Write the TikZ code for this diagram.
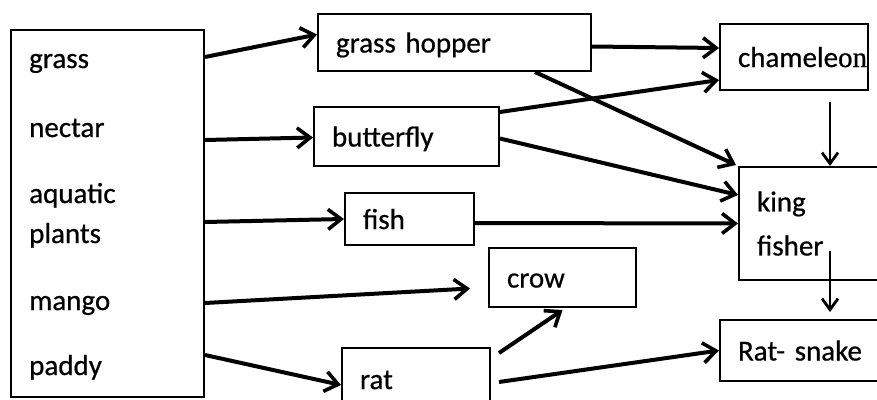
\documentclass[tikz,border=0pt]{standalone}
\usepackage{fontspec}
\setmainfont{Carlito}[FakeBold=0.6]
\newfontfamily\oddfont{Liberation Serif}[FakeBold=0.6]
\usetikzlibrary{arrows.meta}

\begin{document}
\begin{tikzpicture}[
    x=1pt, y=-1pt,
    font=\fontsize{29}{35}\selectfont,
    box/.style={draw, line width=2pt, rectangle, anchor=north west, align=left,
        inner xsep=18pt, inner ysep=0pt, text height=20pt, text depth=0pt},
    food item/.style={anchor=base west, inner sep=0pt},
    feed/.style={line width=4pt,
        -{Straight Barb[length=13pt, width=20pt, line width=3.6pt]}},
    eat/.style={line width=2pt, -{Straight Barb[length=11pt, width=16pt, line width=2.8pt]}},
]
\useasboundingbox (0,0) rectangle (877,399);
\clip (0,0) rectangle (877,399);
% producers
\node[box, minimum width=193pt, minimum height=367pt] (food) at (10,29) {};
\foreach \word/\base in {grass/68, nectar/137, aquatic/203, plants/243, mango/310, paddy/375}
    \node[food item] (\word) at (29,\base) {\word};
% consumers
\node[box, text width=237pt, minimum height=57pt] (hopper) at (317,13) {grass hopper};
\node[box, text width=149pt, minimum height=59pt] (butterfly) at (313,106) {butterfly};
\node[box, text width=93pt, minimum height=52pt] (fish) at (344,192) {fish};
\node[box, text width=111pt, minimum height=59pt] (crow) at (488,247) {crow};
\node[box, text width=112pt, minimum height=62pt] (rat) at (341,347) {rat};
\node[box, text width=112pt, minimum height=66pt] (cham) at (719,23) {chamele{\oddfont on}};
\node[box, text width=146pt, minimum height=113pt, text height=, text depth=] (kf) at (738,166) {king\\[9pt]fisher};
\node[box, text width=184pt, minimum height=61pt] (snake) at (719,319) {Rat- snake};
% food chains
\draw[feed] ([yshift=-28pt]food.north east) -- ([yshift=8pt]hopper.west);
\draw[feed] ([yshift=-111pt]food.north east) -- ([yshift=-1pt]butterfly.west);
\draw[feed] ([yshift=-193pt]food.north east) -- (fish.west);
\draw[feed] ([yshift=-274pt]food.north east) -- ([shift={(-18pt,-11pt)}]crow.west);
\draw[feed] ([yshift=-326pt]food.north east) -- ([yshift=-6pt]rat.west);
\draw[feed] ([yshift=-4pt]hopper.east) -- ([yshift=9pt]cham.west);
\draw[feed] ([xshift=-57pt]hopper.south east) -- ([shift={(-2pt,1pt)}]kf.north west);
\draw[feed] ([yshift=-6pt]butterfly.north east) -- ([yshift=11pt]cham.south west);
\draw[feed] ([yshift=-2pt]butterfly.east) -- ([yshift=-29pt]kf.north west);
\draw[feed] ([yshift=-4pt]fish.east) -- (kf.west);
\draw[feed] ([shift={(8pt,-6pt)}]rat.north east) -- ([yshift=-2pt]crow.south);
\draw[feed] ([shift={(8pt,-3pt)}]rat.east) -- (snake.west);
\draw[eat] ([shift={(36pt,-11pt)}]cham.south) -- (kf.north);
\draw[eat] ([yshift=30pt]kf.south) -- ([yshift=7pt]snake.north);
\end{tikzpicture}
\end{document}
